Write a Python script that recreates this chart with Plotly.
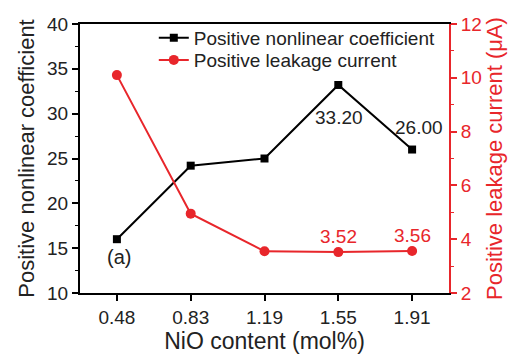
import plotly.graph_objects as go

categories = ["0.48", "0.83", "1.19", "1.55", "1.91"]
nonlinear = [16.0, 24.2, 25.0, 33.2, 26.0]
leakage = [10.1, 4.95, 3.55, 3.52, 3.56]
left_ticks = [10, 15, 20, 25, 30, 35, 40]
right_ticks = [2, 4, 6, 8, 10, 12]

RED = "#e8262b"
DARK = "#222222"
FONT = "Liberation Sans, Arial, sans-serif"

xpos = list(range(len(categories)))

fig = go.Figure()
fig.add_trace(go.Scatter(
    x=xpos, y=nonlinear, mode="lines+markers",
    name="Positive nonlinear coefficient", legend="legend",
    line=dict(color="black", width=2),
    marker=dict(symbol="square", size=8, color="black"),
))
fig.add_trace(go.Scatter(
    x=xpos, y=leakage, mode="lines+markers",
    name="Positive leakage current", yaxis="y2", legend="legend2",
    line=dict(color=RED, width=2),
    marker=dict(symbol="circle", size=10, color=RED),
))

fig.add_annotation(x=3, y=nonlinear[3], text="33.20", showarrow=False,
                   yshift=-33, xshift=1, font=dict(size=19, color=DARK))
fig.add_annotation(x=4, y=nonlinear[4], text="26.00", showarrow=False,
                   yshift=22, xshift=7, font=dict(size=19, color=DARK))
fig.add_annotation(x=3, y=leakage[3], yref="y2", text="3.52", showarrow=False,
                   yshift=16, font=dict(size=19, color=RED))
fig.add_annotation(x=4, y=leakage[4], yref="y2", text="3.56", showarrow=False,
                   yshift=16, font=dict(size=19, color=RED))
fig.add_annotation(x=0.068, y=0.085, xref="paper", yref="paper", text="(a)", showarrow=False,
                   font=dict(size=20, color=DARK))

leg = dict(xanchor="left", yanchor="middle", bgcolor="rgba(0,0,0,0)",
           font=dict(size=19, color=DARK), itemwidth=30)

fig.update_layout(
    width=512, height=355,
    margin=dict(l=80, r=63, t=24, b=62, autoexpand=False),
    paper_bgcolor="white", plot_bgcolor="white",
    font=dict(family=FONT, size=19, color=DARK),
    showlegend=True,
    legend=dict(x=0.2, y=0.948, **leg),
    legend2=dict(x=0.2, y=0.866, **leg),
    xaxis=dict(
        range=[-0.5, 4.5], tickvals=xpos, ticktext=categories, automargin=False,
        showline=True, linecolor="black", linewidth=2, mirror=True,
        ticks="outside", ticklen=6, tickwidth=1.5, tickcolor="black",
        showgrid=False, zeroline=False,
        tickfont=dict(size=19, color=DARK),
        title=dict(text="NiO content (mol%)", font=dict(size=23, color=DARK), standoff=4),
    ),
    yaxis=dict(
        range=[10, 40], tickvals=left_ticks, automargin=False,
        showline=True, linecolor="black", linewidth=2,
        ticks="outside", ticklen=6, tickwidth=1.5, tickcolor="black",
        minor=dict(ticks="outside", ticklen=3, dtick=2.5, tickcolor="black", tickwidth=1.2),
        showgrid=False, zeroline=False,
        tickfont=dict(size=19, color=DARK),
        title=dict(text="Positive nonlinear coefficient", font=dict(size=22, color=DARK), standoff=6),
    ),
    yaxis2=dict(
        range=[2, 12], tickvals=right_ticks, overlaying="y", side="right", automargin=False,
        showline=True, linecolor=RED, linewidth=2,
        ticks="outside", ticklen=6, tickwidth=1.5, tickcolor=RED,
        minor=dict(ticks="outside", ticklen=3, dtick=1, tickcolor=RED, tickwidth=1.2),
        tickfont=dict(size=19, color=RED),
        showgrid=False, zeroline=False,
        title=dict(text="Positive leakage current (μA)", font=dict(size=22, color=RED), standoff=4),
    ),
)

fig.write_html("out.html")
